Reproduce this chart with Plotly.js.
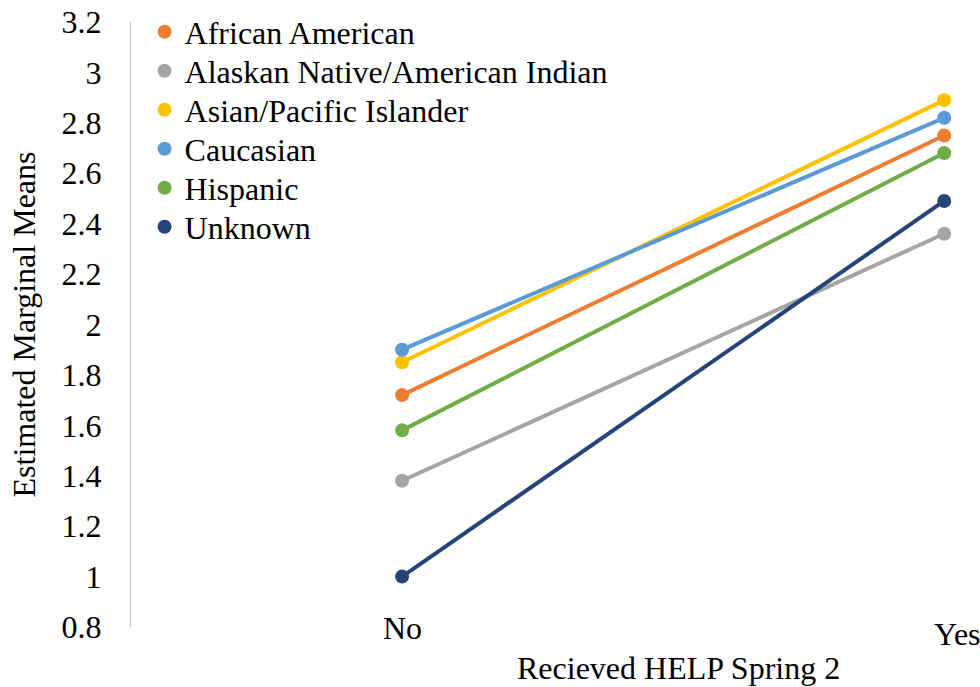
<!DOCTYPE html>
<html><head><meta charset="utf-8">
<script src="https://cdn.plot.ly/plotly-3.0.1.min.js"></script>
<style>html,body{margin:0;padding:0;background:#fff}#chart{width:980px;height:687px}</style>
</head><body><div id="chart"></div>
<script>
const categories = ["No", "Yes"];
const seriesNames = ["African American", "Alaskan Native/American Indian", "Asian/Pacific Islander", "Caucasian", "Hispanic", "Unknown"];
const africanAmerican = [1.72, 2.75];
const alaskanNative = [1.38, 2.36];
const asianPacific = [1.85, 2.89];
const caucasian = [1.90, 2.82];
const hispanic = [1.58, 2.68];
const unknown = [1.00, 2.49];
const yTicks = [0.8, 1, 1.2, 1.4, 1.6, 1.8, 2, 2.2, 2.4, 2.6, 2.8, 3, 3.2];
const colors = ["#ED7D31", "#A5A5A5", "#FFC000", "#5B9BD5", "#70AD47", "#264478"];

const seriesValues = [africanAmerican, alaskanNative, asianPacific, caucasian, hispanic, unknown];
const FONT = "Liberation Serif";
const FS = 32;
const PLOT_TOP = 22, PLOT_H = 605;

const traces = [];
seriesValues.forEach((vals, i) => {
  traces.push({
    x: categories, y: vals, type: "scatter", mode: "lines+markers",
    line: {color: colors[i], width: 4}, marker: {color: colors[i], size: 14},
    showlegend: false, cliponaxis: false, hoverinfo: "skip"
  });
});
const legendKeys = seriesNames.map((_, i) => i === 0 ? "legend" : "legend" + (i + 1));
seriesValues.forEach((vals, i) => {
  traces.push({
    x: [null], y: [null], type: "scatter", mode: "markers", name: seriesNames[i],
    marker: {color: colors[i], size: 14}, showlegend: true, legend: legendKeys[i]
  });
});

// category labels as annotations (Excel places "Yes" slightly lower and pushed right)
const catPx = [628, 634];
const catShift = [0, 13];
const annotations = categories.map((c, i) => ({
  text: c, xref: "x", yref: "paper", x: c, y: (PLOT_TOP + PLOT_H - catPx[i]) / PLOT_H, xshift: catShift[i],
  xanchor: "center", yanchor: "middle",
  showarrow: false, font: {family: FONT, size: FS, color: "#000"}
}));
annotations.push({text: "Recieved HELP Spring 2", xref: "paper", yref: "paper", x: 0.645, y: (PLOT_TOP + PLOT_H - 668) / PLOT_H,
                 xanchor: "center", yanchor: "middle", showarrow: false, font: {family: FONT, size: FS, color: "#000"}});

const layout = {
  width: 980, height: 687,
  margin: {l: 131, r: 0, t: PLOT_TOP, b: 687 - PLOT_TOP - PLOT_H},
  paper_bgcolor: "#fff", plot_bgcolor: "#fff",
  font: {family: FONT, size: FS, color: "#000"},
  showlegend: true,
  xaxis: {type: "category", range: [-0.5, 1.066], showgrid: false, zeroline: false, showline: false,
          showticklabels: false, ticks: "", fixedrange: true},
  yaxis: {range: [0.8, 3.2], tickvals: yTicks, ticktext: yTicks.map(String), showgrid: false, zeroline: false,
          showline: true, linecolor: "#BFBFBF", linewidth: 1, ticks: "", ticklabelstandoff: 22,
          tickfont: {family: FONT, size: FS, color: "#000"},
          title: {text: "Estimated Marginal Means", font: {family: FONT, size: FS, color: "#000"}, standoff: 16}},
  annotations: annotations
};
legendKeys.forEach((k, i) => {
  const py = 32 + 39 * i;
  layout[k] = {x: 0.016, y: (PLOT_TOP + PLOT_H - py) / PLOT_H, xanchor: "left", yanchor: "middle",
               font: {family: FONT, size: FS, color: "#000"}, itemwidth: 30, bgcolor: "rgba(0,0,0,0)"};
});
Plotly.newPlot("chart", traces, layout, {displayModeBar: false, staticPlot: true});
</script></body></html>
